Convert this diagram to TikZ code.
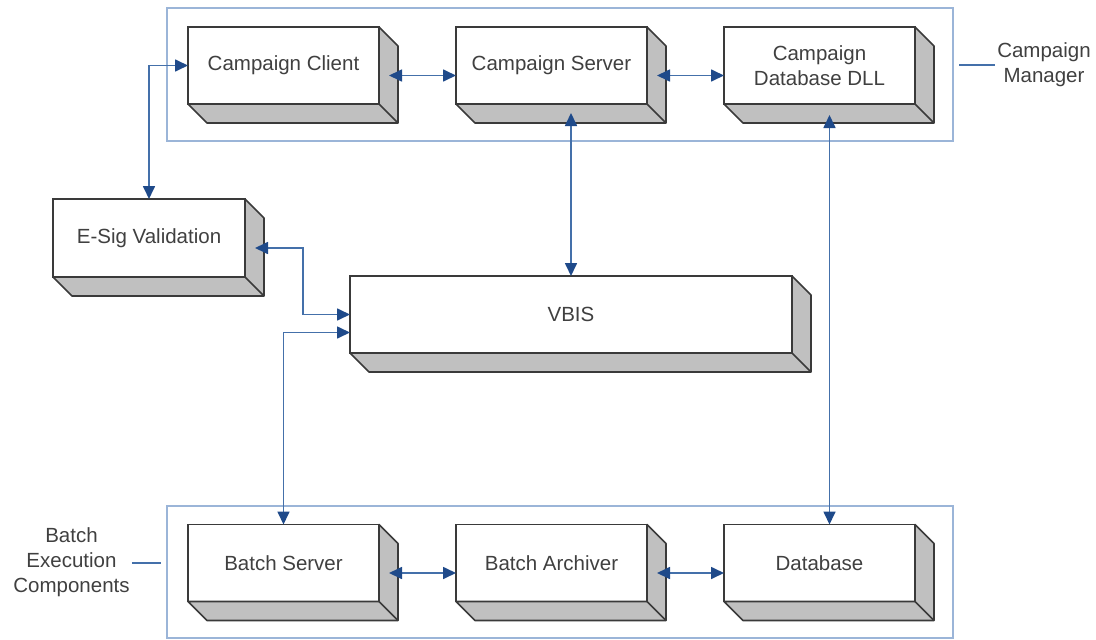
\documentclass[tikz,border=0pt]{standalone}
\usepackage{fontspec}
\setmainfont{Liberation Sans}
\usetikzlibrary{arrows.meta}

\definecolor{framegrey}{HTML}{3A3A3A}
\definecolor{sidegrey}{HTML}{C0C0C0}
\definecolor{textgrey}{HTML}{404040}
\definecolor{groupblue}{HTML}{9BB5D8}
\definecolor{linkblue}{HTML}{4470AA}
\definecolor{tipblue}{HTML}{1F4A8A}

\begin{document}
\begin{tikzpicture}[x=1pt, y=-1pt,
    box/.style={draw=framegrey, line width=1.6pt, fill=white, outer sep=0pt,
        inner sep=0pt, minimum width=191pt, minimum height=77pt, align=center,
        text=textgrey, font=\fontsize{20.5}{25}\selectfont},
    side/.style={draw=framegrey, line width=1.6pt, fill=sidegrey, line join=round},
    group/.style={draw=groupblue, line width=1.6pt, outer sep=0pt, inner sep=0pt},
    grouplabel/.style={align=center, text=textgrey, inner sep=2pt,
        font=\fontsize{20.5}{25}\selectfont},
    grouplink/.style={draw=linkblue, line width=1.3pt},
    link/.style={draw=linkblue, line width=1.7pt,
        {Triangle[length=13pt, width=12pt, color=tipblue]}-{Triangle[length=13pt, width=12pt, color=tipblue]}}]

    \useasboundingbox (0,0) rectangle (1096,640);

    % groups
    \node[group, minimum width=786pt, minimum height=133pt] (manager) at (560,74.5) {};
    \node[group, minimum width=786pt, minimum height=132pt] (batch) at (560,572) {};

    \node[grouplabel] (managerlabel) at (1044,65) {Campaign\\Manager};
    \node[grouplabel] (batchlabel) at (71.5,562) {Batch\\Execution\\Components};

    \draw[grouplink] ([xshift=6pt]manager.east |- managerlabel.west) -- (managerlabel.west);
    \draw[grouplink] (batchlabel.east |- 0,563) -- ([xshift=-6pt]batch.west |- 0,563);

    % boxes
    \node[box] (client) at (283.5,65.5) {Campaign Client};
    \node[box] (server) at (551.5,65.5) {Campaign Server};
    \node[box] (dll) at (819.5,65.5) {Campaign\\Database DLL};

    \node[box, minimum width=192pt, minimum height=78pt] (esig) at (149,238) {E-Sig Validation};
    \node[box, minimum width=442pt] (vbis) at (571,314.5) {VBIS};

    \node[box] (bserver) at (283.5,563) {Batch Server};
    \node[box] (archiver) at (551.5,563) {Batch Archiver};
    \node[box] (db) at (819.5,563) {Database};

    % depth faces
    \foreach \n in {client,server,dll,esig,vbis,bserver,archiver,db} {
        \draw[side] (\n.north east) -- ([shift={(19,19)}]\n.north east)
            -- ([shift={(19,19)}]\n.south east) -- ([shift={(19,19)}]\n.south west)
            -- (\n.south west) -- (\n.south east) -- cycle;
        \draw[side] (\n.south east) -- ([shift={(19,19)}]\n.south east);
    }

    % links
    \coordinate (serverfoot) at ([shift={(0,9)}]server.south);

    \draw[link] ([shift={(10,10)}]client.east) -- ([shift={(0,10)}]server.west);
    \draw[link] ([shift={(10,10)}]server.east) -- ([shift={(0,10)}]dll.west);
    \draw[link] (esig.north) |- (client.west);
    \draw[link] ([shift={(10,10)}]esig.east) -- ++(48,0) |- (vbis.west);
    \draw[link] (bserver.north) |- ([shift={(0,18)}]vbis.west);
    \draw[link] (serverfoot -| vbis.north) -- (vbis.north);
    \draw[link] ([shift={(10,11)}]dll.south) -- ([shift={(10,0)}]db.north);
    \draw[link] ([shift={(10,10)}]bserver.east) -- ([shift={(0,10)}]archiver.west);
    \draw[link] ([shift={(10,10)}]archiver.east) -- ([shift={(0,10)}]db.west);
\end{tikzpicture}
\end{document}
